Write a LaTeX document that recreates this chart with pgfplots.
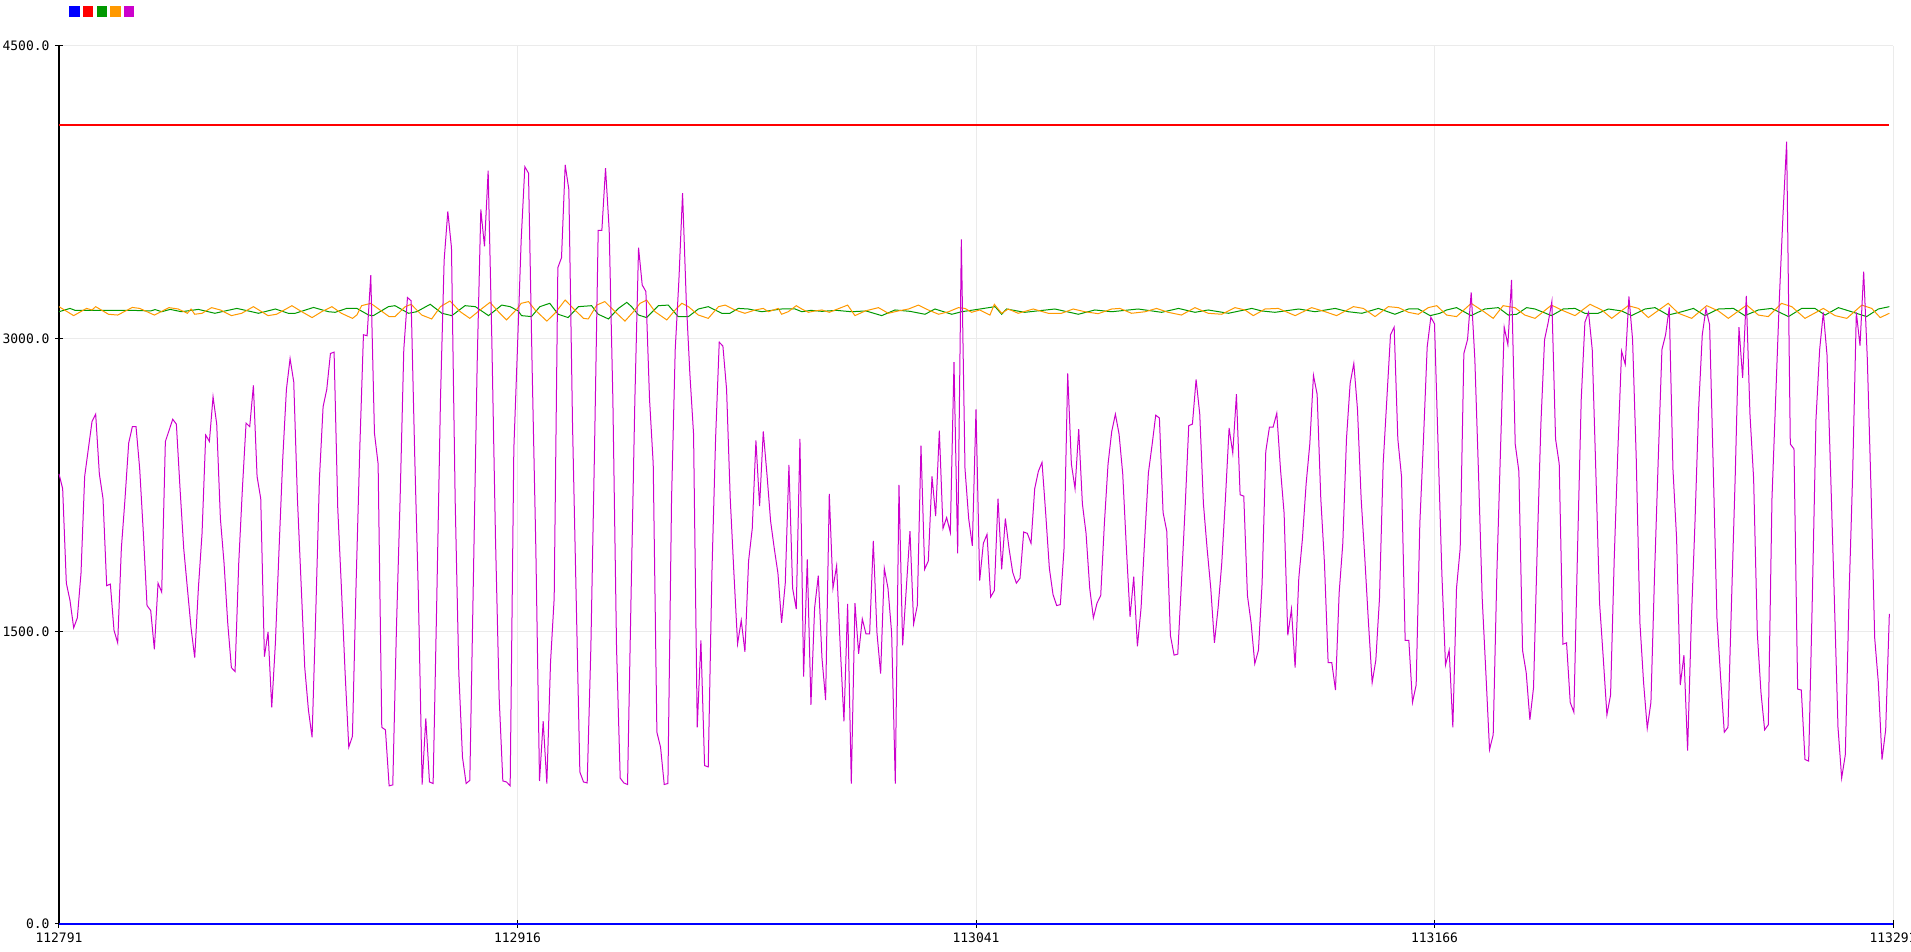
\documentclass[border=0pt]{standalone}
\usepackage{fontspec}
\setmonofont{DejaVu Sans Mono}
\usepackage{pgfplots}
\pgfplotsset{compat=1.18}

\definecolor{plotblue}{HTML}{0000FF}
\definecolor{plotred}{HTML}{FF0000}
\definecolor{plotgreen}{HTML}{009900}
\definecolor{plotorange}{HTML}{FF9900}
\definecolor{plotmagenta}{HTML}{CC00CC}
\definecolor{gridgray}{HTML}{EBEBEB}

\begin{document}
\begin{tikzpicture}
\begin{axis}[
    scale only axis,
    width=917pt, height=439pt,
    xmin=0, xmax=500,
    ymin=0, ymax=4500,
    axis x line*=bottom,
    axis y line*=left,
    x axis line style={plotblue, line width=0.6pt},
    y axis line style={black, line width=0.6pt},
    xtick={0,125,250,375,500},
    xticklabels={112791,112916,113041,113166,113291},
    ytick={0,1500,3000,4500},
    yticklabels={0.0,1500.0,3000.0,4500.0},
    tick align=center,
    major tick length=4pt,
    tick style={black, line width=0.5pt},
    ticklabel style={font=\ttfamily\fontsize{6.5}{7}\selectfont, text=black},
    xticklabel style={yshift=1pt},
    yticklabel style={xshift=0.8pt},
    grid=major,
    major grid style={gridgray, line width=0.5pt},
    clip=false,
    legend columns=5,
    legend style={at={(rel axis cs:0,1)}, anchor=south west,
        xshift=5pt, yshift=14.5pt, draw=none, fill=none, inner sep=0pt,
        nodes={inner sep=0pt},
        /tikz/every even column/.append style={column sep=0.6pt}},
    legend image code/.code={\fill[#1, draw=none] (0pt,-2.6pt) rectangle (5.2pt,2.6pt);},
    every axis plot/.append style={line width=0.5pt},
]
\coordinate (bl) at (rel axis cs:0,0);
\coordinate (tr) at (rel axis cs:1,1);

\addplot[plotblue, line width=0.9pt] coordinates {(0,0)(500,0)};
\addlegendentry{\mbox{}}
\addplot[plotred, line width=0.6pt] coordinates {(0,4095)(499,4095)};
\addlegendentry{\mbox{}}

\addplot[plotgreen] coordinates {
(0,3138)(3,3155)(4.4,3145)(10,3145)(20,3145)(25,3142)(26.2,3149)(28,3138)(30.3,3150)(33.4,3138)(38,3150)(42.5,3130)(45.3,3142)(48.5,3155)(51.6,3142)(54.4,3130)(59,3152)(62.5,3130)(64.4,3130)(69.4,3160)(73.5,3138)(75.3,3135)(78.4,3155)(81.2,3155)(84.4,3121)(85.7,3118)(89.8,3164)(91.6,3169)(95.3,3130)(97.5,3138)(101.2,3176)(104.4,3130)(107.1,3118)(110.7,3169)(113.5,3164)(117.1,3118)(120.7,3172)(123,3164)(125.2,3142)
(126.1,3118)(128.8,3113)(131.1,3164)(133.8,3181)(136.1,3125)(138.8,3108)(141.6,3164)(145.2,3169)(147,3125)(149.8,3101)(152.5,3155)(154.8,3186)(156.1,3164)(158,3121)(160.2,3108)(163.4,3169)(166.1,3172)(168.8,3113)(171.6,3113)(174.3,3152)(177,3164)(180.7,3130)(182.9,3130)(185.2,3155)(187.9,3152)(191.6,3138)(197,3152)(200.7,3152)(202.5,3138)(205,3145)(208,3140)(212,3145)(216,3138)(220,3142)(224.3,3118)(227.9,3147)(232,3140)(236.1,3125)(238.8,3152)(243.4,3125)(246.1,3138)(251.1,3152)
(255.2,3164)(257,3125)(258.3,3152)(263.3,3135)(271.5,3152)(277.9,3125)(282.4,3147)(287,3138)(294.2,3152)(300.6,3135)(305.2,3155)(309.7,3135)(313.3,3147)(318.8,3130)(325.2,3155)(327.9,3142)(331.5,3135)(338,3152)(342.4,3138)(347.9,3155)(351.5,3138)(355.2,3130)(359.7,3155)(364.2,3125)(367.9,3152)(370.6,3152)(373.8,3118)(376.5,3130)
(378.3,3147)(381,3159)(385,3118)(388.7,3152)(392.4,3159)(395.1,3121)(397.4,3125)(400.1,3159)(402.4,3152)(406.9,3118)(410.1,3152)(413.3,3155)(416,3130)(419.6,3130)(422.4,3152)(426,3142)(428.7,3118)(432.4,3152)(435.1,3159)(438.7,3121)(442.4,3138)(445.6,3155)(448.7,3118)(452.4,3152)(456.5,3155)(459.6,3118)(463.3,3147)(466.9,3155)(471.5,3113)(475.1,3155)(478.7,3155)(481.5,3121)(485.1,3159)(488.7,3138)(492.8,3113)(496,3152)(499,3164)
};
\addlegendentry{\mbox{}}

\addplot[plotorange] coordinates {
(0,3164)(4,3118)(7.5,3155)(9,3147)(10,3164)(13.5,3125)(16,3121)(20,3160)(22,3155)(26,3121)(30,3159)(32.5,3152)(35,3130)(36,3152)(37,3125)(39,3130)(41.6,3159)(44,3147)(47,3118)(49.8,3130)(53,3164)(57,3118)(59.3,3125)(63.5,3169)(66.2,3138)(69,3108)(71.6,3138)(74.4,3164)(77,3130)(80,3104)(81.2,3121)(82.5,3169)(85,3181)(87.5,3147)(90,3113)(91.6,3113)(94.4,3164)(96,3176)(98.9,3121)(101.6,3101)(104,3164)(106.6,3193)(109.4,3138)(112,3104)(114.8,3147)(117.5,3186)(119.8,3138)(122,3096)(125,3155)
(126,3181)(128,3190)(129.8,3147)(133,3090)(135.2,3130)(138,3198)(140.2,3155)(143,3104)(144.3,3101)(146.6,3172)(148.8,3190)(151.6,3138)(154.3,3090)(156.6,3138)(158.4,3181)(160.2,3198)(162.5,3138)(165.7,3096)(168,3147)(169.8,3181)(171.6,3164)(174.3,3121)(177,3104)(179.8,3164)(181.6,3172)(184.3,3147)(187,3130)(189.8,3147)(192,3155)(193.4,3138)(196.1,3155)(197,3125)(198.8,3138)(201,3169)(202.5,3152)(204.3,3135)(206.1,3142)(208,3147)(210,3135)(212,3150)(215,3172)(217,3118)(219.8,3142)(223.4,3159)(226.1,3130)(228.8,3142)(231.6,3152)(234.3,3172)(237,3147)(239.8,3125)(242.5,3138)(245.2,3159)(247,3155)(248.8,3135)(251,3147)
(253.8,3121)(255,3176)(257,3130)(258.8,3152)(261.5,3130)(265.6,3152)(269.7,3130)(273.3,3130)(276.5,3152)(279.7,3138)(283.3,3128)(287,3152)(289.2,3155)(292.4,3130)(296.1,3138)(299.2,3155)(302.4,3135)(306,3121)(309.7,3159)(313.3,3130)(317,3125)(320.6,3159)(323.3,3147)(325.6,3118)(328.8,3152)(332.4,3155)(337,3118)(341.5,3159)(345.2,3138)(348.3,3118)(352.9,3164)(355.6,3155)(358.8,3113)(362.4,3164)(365.2,3159)(367.9,3135)(370.6,3125)(373.3,3159)(375.6,3169)
(378.3,3121)(381,3113)(385,3181)(388.7,3135)(391,3104)(393.7,3169)(396.9,3159)(399.6,3121)(402.4,3104)(406.9,3172)(409.6,3147)(413.3,3118)(417.4,3176)(420.6,3147)(423.3,3104)(427.8,3169)(430.6,3155)(433.3,3108)(438.7,3181)(441.5,3130)(445.1,3104)(449.2,3169)(452.4,3142)(455.1,3104)(460.1,3172)(463.3,3121)(466,3113)(469.6,3181)(472.4,3164)(476,3104)(481,3155)(484.2,3118)(487.4,3104)(491.5,3172)(494.2,3155)(496.5,3108)(499,3130)
};
\addlegendentry{\mbox{}}

\addplot[plotmagenta] coordinates {
(0,2307)(1,2231)(2,1747)(3,1658)(4,1518)(5,1569)(6,1798)(7,2294)(8,2435)(9,2575)
(10,2613)(11,2307)(12,2180)(13,1734)(14,1742)(15,1505)(16,1441)(17,1925)(18,2180)(19,2465)
(20,2549)(21,2549)(22,2333)(23,2002)(24,1632)(25,1607)(26,1408)(27,1747)(28,1701)(29,2473)
(30,2529)(31,2587)(32,2562)(33,2231)(34,1925)(35,1721)(36,1518)(37,1365)(38,1721)(39,2002)
(40,2506)(41,2473)(42,2702)(43,2562)(44,2078)(45,1849)(46,1543)(47,1314)(48,1294)(49,1849)
(50,2231)(51,2567)(52,2549)(53,2761)(54,2294)(55,2180)(56,1370)(57,1497)(58,1110)(59,1441)
(60,1925)(61,2384)(62,2740)(63,2898)(64,2778)(65,2180)(66,1747)(67,1314)(68,1097)(69,957)
(70,1594)(71,2282)(72,2651)(73,2740)(74,2924)(75,2931)(76,2129)(77,1721)(78,1288)(79,906)
(80,962)(81,1747)(82,2435)(83,3020)(84,3015)(85,3326)(86,2516)(87,2358)(88,1008)(89,995)
(90,708)(91,713)(92,1518)(93,2180)(94,2944)(95,3211)(96,3194)(97,2384)(98,1670)(99,715)
(100,1054)(101,728)(102,720)(103,1670)(104,2689)(105,3402)(106,3652)(107,3466)(108,2180)(109,1288)
(110,855)(111,720)(112,736)(113,1798)(114,2868)(115,3662)(116,3473)(117,3861)(118,2995)(119,1976)
(120,1161)(121,733)(122,728)(123,708)(124,2435)(125,2957)(126,3504)(127,3881)(128,3848)(129,2842)
(130,1925)(131,733)(132,1039)(133,720)(134,1339)(135,1670)(136,3364)(137,3415)(138,3891)(139,3764)
(140,2562)(141,1670)(142,779)(143,728)(144,723)(145,1416)(146,2435)(147,3555)(148,3555)(149,3874)
(150,3555)(151,2689)(152,1416)(153,748)(154,723)(155,715)(156,1721)(157,2689)(158,3466)(159,3275)
(160,3242)(161,2689)(162,2358)(163,983)(164,906)(165,715)(166,720)(167,2180)(168,2944)(169,3300)
(170,3746)(171,3199)(172,2817)(173,2511)(174,1008)(175,1454)(176,812)(177,805)(178,1798)(179,2486)
(180,2982)(181,2962)(182,2740)(183,2180)(184,1798)(185,1436)(186,1556)(187,1395)(188,1861)(189,2027)
(190,2478)(191,2142)(192,2524)(193,2307)(194,2065)(195,1925)(196,1798)(197,1543)(198,1747)(199,2353)
(200,1721)(201,1614)(202,2486)(203,1268)(204,1869)(205,1123)(206,1620)(207,1785)(208,1365)(209,1148)
(210,2205)(211,1721)(212,1836)(213,1416)(214,1039)(215,1640)(216,720)(217,1645)(218,1385)(219,1564)
(220,1487)(221,1487)(222,1963)(223,1492)(224,1283)(225,1823)(226,1721)(227,1492)(228,720)(229,2251)
(230,1428)(231,1721)(232,2014)(233,1538)(234,1632)(235,2452)(236,1818)(237,1861)(238,2294)(239,2091)
(240,2529)(241,2027)(242,2083)(243,2007)(244,2880)(245,1900)(246,3509)(247,2333)(248,2078)(249,1938)
(250,2638)(251,1760)(252,1951)(253,1997)(254,1676)(255,1709)(256,2180)(257,1818)(258,2078)(259,1925)
(260,1803)(261,1747)(262,1772)(263,2009)(264,2002)(265,1951)(266,2231)(267,2320)(268,2366)(269,2104)
(270,1823)(271,1688)(272,1632)(273,1637)(274,1925)(275,2822)(276,2358)(277,2231)(278,2536)(279,2154)
(280,2002)(281,1721)(282,1569)(283,1645)(284,1683)(285,2053)(286,2358)(287,2524)(288,2613)(289,2511)
(290,2307)(291,1925)(292,1574)(293,1780)(294,1423)(295,1620)(296,1976)(297,2312)(298,2455)(299,2608)
(300,2593)(301,2109)(302,2014)(303,1479)(304,1378)(305,1383)(306,1747)(307,2129)(308,2554)(309,2562)
(310,2791)(311,2613)(312,2154)(313,1925)(314,1721)(315,1441)(316,1620)(317,1849)(318,2180)(319,2542)
(320,2414)(321,2715)(322,2200)(323,2193)(324,1683)(325,1543)(326,1334)(327,1403)(328,1747)(329,2422)
(330,2547)(331,2547)(332,2618)(333,2333)(334,2104)(335,1479)(336,1614)(337,1314)(338,1772)(339,1976)
(340,2256)(341,2460)(342,2812)(343,2715)(344,2180)(345,1849)(346,1339)(347,1339)(348,1199)(349,1696)
(350,1951)(351,2486)(352,2771)(353,2873)(354,2638)(355,2180)(356,1874)(357,1543)(358,1237)(359,1352)
(360,1670)(361,2358)(362,2689)(363,3020)(364,3059)(365,2486)(366,2294)(367,1454)(368,1454)(369,1136)
(370,1225)(371,2053)(372,2486)(373,2957)(374,3110)(375,3076)(376,2435)(377,1798)(378,1327)(379,1403)
(380,1008)(381,1721)(382,1925)(383,2924)(384,2995)(385,3237)(386,2893)(387,2307)(388,1670)(389,1288)
(390,894)(391,970)(392,1798)(393,2435)(394,3059)(395,2969)(396,3301)(397,2460)(398,2320)(399,1403)
(400,1288)(401,1046)(402,1212)(403,1925)(404,2562)(405,2995)(406,3084)(407,3191)(408,2486)(409,2358)
(410,1434)(411,1441)(412,1136)(413,1085)(414,1925)(415,2689)(416,3084)(417,3135)(418,2944)(419,2307)
(420,1645)(421,1365)(422,1072)(423,1174)(424,1874)(425,2435)(426,2936)(427,2868)(428,3216)(429,2995)
(430,2384)(431,1543)(432,1237)(433,1003)(434,1136)(435,1798)(436,2384)(437,2944)(438,3020)(439,3160)
(440,2333)(441,1976)(442,1225)(443,1378)(444,889)(445,1543)(446,2053)(447,2638)(448,3020)(449,3153)
(450,3071)(451,2333)(452,1569)(453,1263)(454,983)(455,1008)(456,1670)(457,2307)(458,3059)(459,2799)
(460,3219)(461,2613)(462,2282)(463,1492)(464,1187)(465,995)(466,1021)(467,2180)(468,2689)(469,3199)
(470,3632)(471,4010)(472,2460)(473,2435)(474,1204)(475,1199)(476,843)(477,835)(478,1670)(479,2587)
(480,2944)(481,3135)(482,2918)(483,2307)(484,1670)(485,1008)(486,748)(487,868)(488,1670)(489,2307)
(490,3135)(491,2964)(492,3344)(493,2893)(494,2231)(495,1467)(496,1237)(497,843)(498,995)(499,1589)
};
\addlegendentry{\mbox{}}
\end{axis}
\pgfresetboundingbox
\path ([shift={(-29.5pt,-14pt)}]bl) rectangle ([shift={(9pt,23pt)}]tr);
\end{tikzpicture}
\end{document}
